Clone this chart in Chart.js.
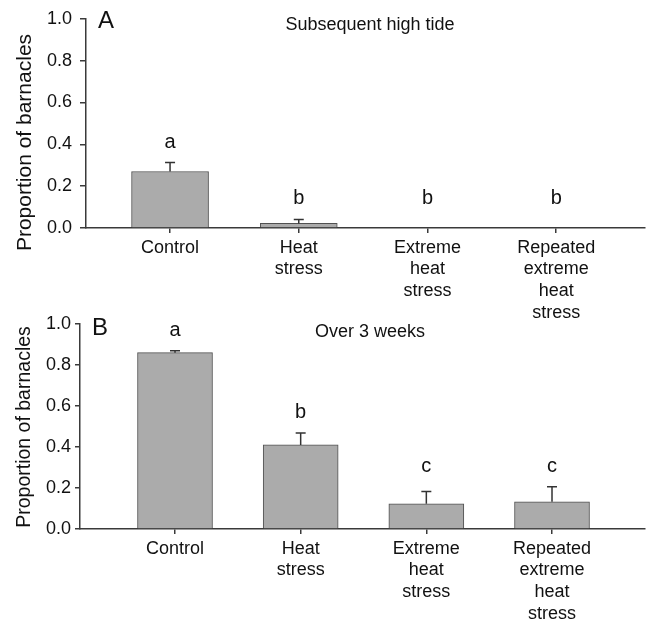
<!DOCTYPE html>
<html lang="en">
<head>
    <meta charset="UTF-8">
    <title>Proportion of barnacles</title>
    <script src="https://cdn.jsdelivr.net/npm/chart.js"></script>
    <style>
        body {
            margin: 0;
            background: #ffffff;
        }
        .figure {
            position: relative;
            width: 647px;
            height: 622px;
        }
        canvas {
            position: absolute;
            left: 0;
        }
        #panelA { top: 0; }
        #panelB { top: 300px; }
    </style>
</head>
<body>
    <div class="figure">
        <canvas id="panelA" width="647" height="340"></canvas>
        <canvas id="panelB" width="647" height="322"></canvas>
    </div>
    <script>
        // Data
        const categories = [
            ['Control'],
            ['Heat', 'stress'],
            ['Extreme', 'heat', 'stress'],
            ['Repeated', 'extreme', 'heat', 'stress']
        ];
        const tideMeans = [0.27, 0.022, 0, 0];
        const tideUpper = [0.313, 0.041, 0, 0];
        const tideLetters = ['a', 'b', 'b', 'b'];
        const weeksMeans = [0.86, 0.41, 0.123, 0.133];
        const weeksUpper = [0.87, 0.468, 0.183, 0.206];
        const weeksLetters = ['a', 'b', 'c', 'c'];
        const yTicks = [0, 0.2, 0.4, 0.6, 0.8, 1.0];

        const FONT = 'Arial, "Liberation Sans", Helvetica, sans-serif';
        const AXIS = '#3a3a3a';
        const INK = '#111111';

        // error bars (upper whisker only) + significance letters
        const errorBars = {
            id: 'errorBars',
            afterDatasetsDraw(chart, args, opts) {
                const ctx = chart.ctx;
                const y = chart.scales.y;
                const bars = chart.getDatasetMeta(0).data;
                ctx.save();
                ctx.strokeStyle = '#333333';
                ctx.lineWidth = 1.5;
                opts.upper.forEach((u, i) => {
                    if (u <= opts.means[i]) return;
                    const x = bars[i].x;
                    const y0 = y.getPixelForValue(opts.means[i]);
                    const y1 = y.getPixelForValue(u);
                    ctx.beginPath();
                    ctx.moveTo(x, y0);
                    ctx.lineTo(x, y1);
                    ctx.moveTo(x - 5, y1);
                    ctx.lineTo(x + 5, y1);
                    ctx.stroke();
                });
                // letters sit above the highest whisker of their group
                ctx.fillStyle = INK;
                ctx.font = '20px ' + FONT;
                ctx.textAlign = 'center';
                ctx.textBaseline = 'alphabetic';
                opts.letters.forEach((l, i) => {
                    let top = 0;
                    opts.letters.forEach((m, j) => { if (m === l) top = Math.max(top, opts.upper[j]); });
                    ctx.fillText(l, bars[i].x, y.getPixelForValue(top) - 15);
                });
                ctx.restore();
            }
        };

        const panelText = {
            id: 'panelText',
            afterDraw(chart, args, t) {
                const ctx = chart.ctx;
                ctx.save();
                ctx.fillStyle = INK;
                ctx.textBaseline = 'alphabetic';
                ctx.font = '24px ' + FONT;
                ctx.textAlign = 'left';
                ctx.fillText(t.letter, t.letterX, t.letterY);
                ctx.font = '18px ' + FONT;
                ctx.textAlign = 'center';
                ctx.fillText(t.title, 370, t.titleY);
                ctx.translate(t.yTitleX, t.yTitleY);
                ctx.rotate(-Math.PI / 2);
                ctx.font = t.yTitleSize + 'px ' + FONT;
                ctx.fillText('Proportion of barnacles', 0, 0);
                ctx.restore();
            }
        };

        function makePanel(id, means, upper, letters, p) {
            return new Chart(document.getElementById(id), {
                type: 'bar',
                data: {
                    datasets: [{
                        data: means.map((v, i) => ({ x: i, y: v })),
                        backgroundColor: '#ababab',
                        borderColor: '#505050',
                        borderWidth: 1,
                        barThickness: p.barWidth
                    }]
                },
                options: {
                    responsive: false,
                    animation: false,
                    layout: { padding: { top: p.top, right: 2, left: 0, bottom: 0 } },
                    plugins: {
                        legend: { display: false },
                        tooltip: { enabled: false },
                        errorBars: { means: means, upper: upper, letters: letters },
                        panelText: p.text
                    },
                    scales: {
                        x: {
                            type: 'linear',
                            offset: false,
                            min: p.xMin,
                            max: p.xMax,
                            afterBuildTicks: s => { s.ticks = categories.map((c, i) => ({ value: i })); },
                            afterFit: s => { s.height = p.xHeight; },
                            ticks: {
                                callback: v => categories[v],
                                autoSkip: false,
                                maxRotation: 0,
                                padding: 4,
                                color: INK,
                                font: { family: FONT, size: 18, lineHeight: 1.2 }
                            },
                            grid: { offset: false, drawOnChartArea: false, tickLength: 5, color: AXIS, lineWidth: 1.5 },
                            border: { color: AXIS, width: 1.5 }
                        },
                        y: {
                            min: 0,
                            max: 1,
                            afterBuildTicks: s => { s.ticks = yTicks.map(v => ({ value: v })); },
                            afterFit: s => { s.width = p.axisX; },
                            ticks: {
                                callback: v => v.toFixed(1),
                                padding: p.tickPad,
                                color: INK,
                                font: { family: FONT, size: 18 }
                            },
                            grid: { drawOnChartArea: false, tickLength: p.tickLen, color: AXIS, lineWidth: 1.5 },
                            border: { color: AXIS, width: 1.5 }
                        }
                    }
                },
                plugins: [errorBars, panelText]
            });
        }

        makePanel('panelA', tideMeans, tideUpper, tideLetters, {
            top: 16, xHeight: 112, axisX: 86, xMin: -0.653, xMax: 3.69,
            barWidth: 77, tickLen: 6, tickPad: 8,
            text: { letter: 'A', letterX: 98, letterY: 28, title: 'Subsequent high tide', titleY: 30,
                    yTitleX: 31, yTitleY: 142.5, yTitleSize: 21 }
        });

        makePanel('panelB', weeksMeans, weeksUpper, weeksLetters, {
            top: 24, xHeight: 93, axisX: 80, xMin: -0.756, xMax: 3.74,
            barWidth: 75, tickLen: 5, tickPad: 4,
            text: { letter: 'B', letterX: 92, letterY: 35, title: 'Over 3 weeks', titleY: 37,
                    yTitleX: 30, yTitleY: 127, yTitleSize: 19.5 }
        });
    </script>
</body>
</html>
